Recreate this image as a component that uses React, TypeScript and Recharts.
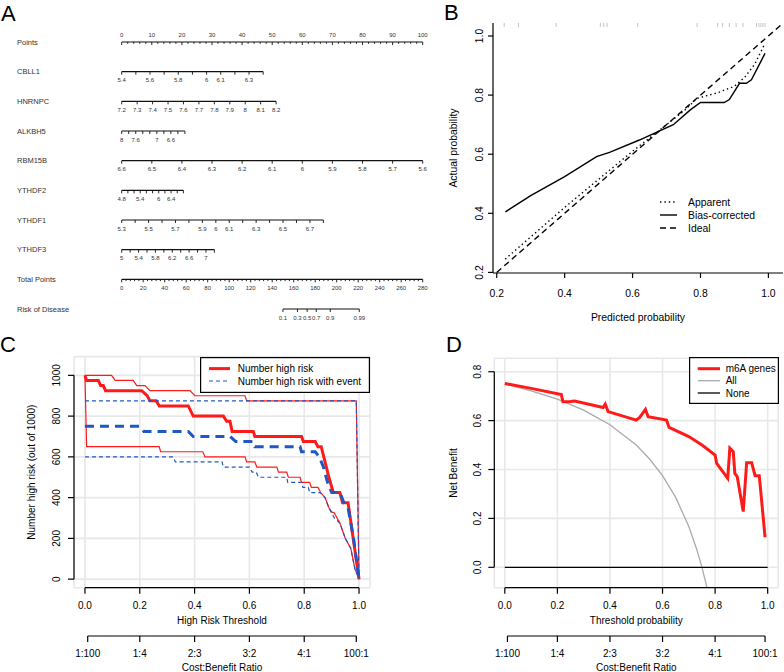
import React from "react";
import { CartesianGrid, ComposedChart, Label, Legend, Line, Scatter, XAxis, YAxis } from "recharts";

const FONT = "'Liberation Sans', Arial, Helvetica, sans-serif";
const RED = "#ff1a1a";
const BLUE = "#1f57c3";
const GRAY = "#aaaaaa";
const GRID = "#e8e8e8";

// ---------- A: nomogram ----------
const ROW_NAMES = ["Points", "CBLL1", "HNRNPC", "ALKBH5", "RBM15B", "YTHDF2", "YTHDF1", "YTHDF3", "Total Points", "Risk of Disease"];
const POINTS_LABELS = [0, 10, 20, 30, 40, 50, 60, 70, 80, 90, 100];
const TOTAL_LABELS = [0, 20, 40, 60, 80, 100, 120, 140, 160, 180, 200, 220, 240, 260, 280];

const CBLL1_TICKS = [5.4, 5.5, 5.6, 5.7, 5.8, 5.9, 6, 6.1, 6.2, 6.3, 6.4];
const CBLL1_LABELS = [5.4, 5.6, 5.8, 6, 6.1, 6.3];
const HNRNPC_TICKS = [7.2, 7.3, 7.4, 7.5, 7.6, 7.7, 7.8, 7.9, 8, 8.1, 8.2];
const HNRNPC_LABELS = [7.2, 7.3, 7.4, 7.5, 7.6, 7.7, 7.8, 7.9, 8, 8.1, 8.2];
const ALKBH5_TICKS = [8, 7.8, 7.6, 7.4, 7.2, 7, 6.8, 6.6, 6.4, 6.2];
const ALKBH5_LABELS = [8, 7.6, 7, 6.6];
const RBM15B_TICKS = [6.6, 6.5, 6.4, 6.3, 6.2, 6.1, 6, 5.9, 5.8, 5.7, 5.6];
const RBM15B_LABELS = [6.6, 6.5, 6.4, 6.3, 6.2, 6.1, 6, 5.9, 5.8, 5.7, 5.6];
const YTHDF2_TICKS = [4.8, 5, 5.2, 5.4, 5.6, 5.8, 6, 6.2, 6.4, 6.6, 6.8];
const YTHDF2_LABELS = [4.8, 5.4, 6, 6.4];
const YTHDF1_TICKS = [5.3, 5.4, 5.5, 5.6, 5.7, 5.8, 5.9, 6, 6.1, 6.2, 6.3, 6.4, 6.5, 6.6, 6.7, 6.8];
const YTHDF1_LABELS = [5.3, 5.5, 5.7, 5.9, 6, 6.1, 6.3, 6.5, 6.7];
const YTHDF3_TICKS = [5, 5.2, 5.4, 5.6, 5.8, 6, 6.2, 6.4, 6.6, 6.8, 7, 7.2];
const YTHDF3_LABELS = [5, 5.4, 5.8, 6.2, 6.6, 7];
// points reached at the last tick of each variable axis
const VAR_END_POINTS = [47, 51.3, 21, 100, 20.5, 67, 30.8];
const RISK_LABELS = ["0.1", "0.3", "0.5", "0.7", "0.9", "0.99"];
const RISK_AT_TOTAL = [150, 163.5, 172.5, 181, 194, 221];

// ---------- B: calibration ----------
const B_TICKS = [0.2, 0.4, 0.6, 0.8, 1.0];
const IDEAL_X = [0.2, 1.06];
const APPARENT_X = [0.225, 0.3, 0.4, 0.5, 0.6, 0.7, 0.75, 0.79, 0.85, 0.9, 0.93, 0.96, 0.99];
const APPARENT_Y = [0.245, 0.32, 0.42, 0.515, 0.61, 0.7, 0.745, 0.789, 0.808, 0.83, 0.86, 0.905, 0.975];
const BIAS_X = [0.2255, 0.3, 0.4, 0.494, 0.534, 0.62, 0.72, 0.77, 0.8, 0.87, 0.885, 0.915, 0.935, 0.95, 0.99];
const BIAS_Y = [0.405, 0.46, 0.524, 0.592, 0.607, 0.648, 0.7, 0.75, 0.775, 0.775, 0.785, 0.84, 0.84, 0.852, 0.941];
const RUG = [0.222, 0.264, 0.375, 0.505, 0.515, 0.525, 0.615, 0.79, 0.85, 0.865, 0.885, 0.905, 0.925, 0.965, 0.972, 0.978, 0.984, 0.99];
const B_LEGEND = ["Apparent", "Bias-corrected", "Ideal"];

// ---------- C: clinical impact ----------
const THR_TICKS = [0, 0.2, 0.4, 0.6, 0.8, 1.0];
const CB_TICKS = [0.01, 0.2, 0.4, 0.6, 0.8, 0.99];
const CB_LABELS = ["1:100", "1:4", "2:3", "3:2", "4:1", "100:1"];
const C_Y_TICKS = [0, 200, 400, 600, 800, 1000];
const C_NHR_X = [0, 0.006, 0.049, 0.057, 0.067, 0.075, 0.207, 0.227, 0.237, 0.26, 0.271, 0.377, 0.395, 0.505, 0.517, 0.529, 0.537, 0.614, 0.62, 0.79, 0.797, 0.84, 0.85, 0.862, 0.876, 0.89, 0.906, 0.93, 0.94, 0.96, 1.0];
const C_NHR_Y = [1000, 975, 975, 950, 950, 925, 925, 900, 875, 875, 850, 850, 800, 800, 775, 775, 725, 725, 700, 700, 675, 675, 650, 650, 575, 500, 425, 425, 375, 375, 0];
const C_NHR_UP_X = [0, 0.097, 0.11, 0.176, 0.189, 0.219, 0.237, 0.383, 0.401, 0.584, 0.59, 0.99, 1.0];
const C_NHR_UP_Y = [1000, 1000, 975, 975, 950, 950, 925, 925, 900, 900, 875, 875, 0];
const C_NHR_LO_X = [0, 0.006, 0.271, 0.276, 0.43, 0.438, 0.584, 0.59, 0.62, 0.627, 0.7, 0.706, 0.736, 0.742, 0.785, 0.79, 0.82, 0.826, 0.85, 0.86, 0.876, 0.89, 0.9, 0.91, 0.93, 0.95, 0.97, 0.985, 1.0];
const C_NHR_LO_Y = [1000, 650, 650, 625, 625, 600, 600, 575, 575, 550, 550, 525, 525, 500, 500, 475, 475, 450, 450, 425, 400, 350, 330, 325, 275, 200, 150, 50, 0];
const C_NHRE_X = [0, 0.2, 0.215, 0.377, 0.395, 0.53, 0.55, 0.614, 0.62, 0.785, 0.79, 0.84, 0.855, 0.87, 0.885, 0.9, 0.93, 0.945, 0.96, 0.98, 1.0];
const C_NHRE_Y = [750, 750, 725, 725, 700, 700, 675, 675, 650, 650, 625, 625, 600, 550, 475, 425, 425, 375, 350, 200, 0];
const C_NHRE_UP_X = [0, 0.99, 1.0];
const C_NHRE_UP_Y = [875, 875, 0];
const C_NHRE_LO_X = [0, 0.322, 0.33, 0.5, 0.505, 0.6, 0.61, 0.625, 0.633, 0.736, 0.74, 0.79, 0.795, 0.815, 0.82, 0.858, 0.876, 0.89, 0.91, 0.93, 0.95, 0.97, 0.985, 1.0];
const C_NHRE_LO_Y = [600, 600, 575, 575, 550, 550, 525, 525, 500, 500, 475, 475, 450, 450, 425, 425, 400, 350, 300, 275, 200, 150, 50, 0];
const C_LEGEND = ["Number high risk", "Number high risk with event"];

// ---------- D: decision curve ----------
const D_Y_TICKS = [0, 0.2, 0.4, 0.6, 0.8];
const D_M6A_X = [0, 0.1, 0.215, 0.221, 0.25, 0.266, 0.374, 0.382, 0.393, 0.5, 0.513, 0.535, 0.545, 0.615, 0.625, 0.7, 0.75, 0.8, 0.806, 0.848, 0.856, 0.869, 0.875, 0.884, 0.907, 0.92, 0.939, 0.952, 0.968, 0.99];
const D_M6A_Y = [0.752, 0.732, 0.707, 0.677, 0.678, 0.68, 0.654, 0.668, 0.637, 0.602, 0.613, 0.646, 0.616, 0.602, 0.572, 0.535, 0.5, 0.459, 0.425, 0.364, 0.487, 0.473, 0.384, 0.371, 0.228, 0.428, 0.428, 0.375, 0.375, 0.123];
const D_ALL_X = [0, 0.1, 0.2, 0.3, 0.4, 0.5, 0.55, 0.6, 0.65, 0.7, 0.73, 0.75, 0.77];
const D_ALL_Y = [0.75, 0.722, 0.688, 0.643, 0.583, 0.5, 0.444, 0.375, 0.286, 0.167, 0.074, 0, -0.087];
const D_NONE_X = [0, 1];
const D_NONE_Y = [0, 0];
const D_LEGEND = ["m6A genes", "All", "None"];

// ---------- helpers ----------
const f1 = (v: number) => v.toFixed(1);
const f0 = (v: number) => String(v);
const xy = (xs: number[], ys: number[]) => xs.map((x, i) => ({ x, y: ys[i] }));
const AXIS = { stroke: "#000", strokeWidth: 1.2 };
const TICK_TXT = { fontSize: 10, fill: "#000", fontFamily: FONT };

// stroke dash that shows an axis line only between two domain values (R style)
function partialLine(dom: number[], from: number, to: number, px: number, topDown = false) {
  const k = px / (dom[1] - dom[0]);
  const gap = topDown ? (dom[1] - to) * k : (from - dom[0]) * k;
  return { ...AXIS, strokeDasharray: `0 ${gap} ${(to - from) * k} 4000` };
}

const rotTick = (fmt: (v: number) => string, fontSize: number) => (p: any) => (
  <text x={p.x} y={p.y} transform={`rotate(-90 ${p.x} ${p.y})`} textAnchor="middle" fontSize={fontSize} fontFamily={FONT} fill="#000">
    {fmt(p.payload.value)}
  </text>
);

type LegendRow = { label: string; color: string; width: number; dash?: string };
function LegendBox(props: { rows: LegendRow[]; w: number; h: number; box: boolean; x1: number; x2: number; tx: number; ys: number[]; fontSize: number }) {
  const { rows, w, h, box, x1, x2, tx, ys, fontSize } = props;
  return (
    <svg width={w} height={h} style={{ display: "block", overflow: "visible" }}>
      {box && <rect x={0.6} y={0.6} width={w - 1.2} height={h - 1.2} fill="#fff" stroke="#000" strokeWidth={1.2} />}
      {rows.map((r, i) => (
        <g key={r.label}>
          <line x1={x1} x2={x2} y1={ys[i]} y2={ys[i]} stroke={r.color} strokeWidth={r.width} strokeDasharray={r.dash} />
          <text x={tx} y={ys[i]} dy="0.36em" fontSize={fontSize} fontFamily={FONT} fill="#000">
            {r.label}
          </text>
        </g>
      ))}
    </svg>
  );
}

// ---------- A ----------
const ROW_IDX = ROW_NAMES.map((_, i) => i);
const VAR_TICKS = [CBLL1_TICKS, HNRNPC_TICKS, ALKBH5_TICKS, RBM15B_TICKS, YTHDF2_TICKS, YTHDF1_TICKS, YTHDF3_TICKS];
const VAR_LABELS = [CBLL1_LABELS, HNRNPC_LABELS, ALKBH5_LABELS, RBM15B_LABELS, YTHDF2_LABELS, YTHDF1_LABELS, YTHDF3_LABELS];

const varRows = VAR_TICKS.map((ticks, i) => {
  const start = ticks[0];
  const end = ticks[ticks.length - 1];
  const v100 = start + ((end - start) * 100) / VAR_END_POINTS[i];
  return {
    id: `v${i}`,
    domain: [Math.min(start, v100), Math.max(start, v100)],
    reversed: end < start,
    data: ticks.map((t) => ({ x: t, y: i + 1, label: VAR_LABELS[i].includes(t) ? f0(t) : "", minor: false })),
  };
});
const pointsRow = Array.from({ length: 51 }, (_, k) => k * 2).map((v) => ({
  x: v, y: 0, label: POINTS_LABELS.includes(v) ? f0(v) : "", minor: !POINTS_LABELS.includes(v),
}));
const totalRow = Array.from({ length: 71 }, (_, k) => k * 4).map((v) => ({
  x: v, y: 8, label: TOTAL_LABELS.includes(v) ? f0(v) : "", minor: !TOTAL_LABELS.includes(v),
}));
const riskRow = RISK_AT_TOTAL.map((v, i) => ({ x: v, y: 9, label: RISK_LABELS[i], minor: false }));

const NOMO_LINE = { stroke: "#111", strokeWidth: 1.1 };
const nomoTick = (above: boolean) => (p: any) => {
  const { cx, cy, payload } = p;
  return (
    <g>
      <line x1={cx} x2={cx} y1={cy} y2={cy + (payload.minor ? 1.8 : 3)} stroke="#111" strokeWidth={0.9} />
      {payload.label !== "" && (
        <text x={cx} y={above ? cy - 4.8 : cy + 10.6} textAnchor="middle" fontSize={6} fontFamily={FONT} fill="#333">
          {payload.label}
        </text>
      )}
    </g>
  );
};
const nameTick = (p: any) => (
  <text x={17} y={p.y} dy="0.36em" fontSize={7.5} fontFamily={FONT} fill="#333">
    {ROW_NAMES[p.payload.value]}
  </text>
);

function Nomogram() {
  return (
    <ComposedChart width={440} height={330} margin={{ top: 42, right: 17.3, bottom: 21, left: 0 }}>
      <YAxis type="number" dataKey="y" domain={[0, 9]} reversed ticks={ROW_IDX} interval={0} width={121.7} axisLine={false} tickLine={false} tick={nameTick} />
      <XAxis xAxisId="pts" type="number" dataKey="x" domain={[0, 100]} hide />
      <XAxis xAxisId="total" type="number" dataKey="x" domain={[0, 280]} hide />
      {varRows.map((r) => (
        <XAxis key={r.id} xAxisId={r.id} type="number" dataKey="x" domain={r.domain} reversed={r.reversed} hide />
      ))}
      <Scatter xAxisId="pts" data={pointsRow} line={NOMO_LINE} shape={nomoTick(true)} isAnimationActive={false} />
      {varRows.map((r) => (
        <Scatter key={r.id} xAxisId={r.id} data={r.data} line={NOMO_LINE} shape={nomoTick(false)} isAnimationActive={false} />
      ))}
      <Scatter xAxisId="total" data={totalRow} line={NOMO_LINE} shape={nomoTick(false)} isAnimationActive={false} />
      <Scatter xAxisId="total" data={riskRow} line={NOMO_LINE} shape={nomoTick(false)} isAnimationActive={false} />
    </ComposedChart>
  );
}

// ---------- B ----------
const B_XDOM = [0.189, 1.043];
const B_YDOM = [0.198, 1.044];
const rugData = RUG.map((v) => ({ x: v, y: B_YDOM[1] }));
const rugShape = (p: any) => <line x1={p.cx} x2={p.cx} y1={p.cy} y2={p.cy + 4} stroke="#c4c4c4" strokeWidth={1} />;

function Calibration() {
  return (
    <ComposedChart width={344} height={330} margin={{ top: 23, right: 1, bottom: 0, left: 0 }}>
      <XAxis type="number" dataKey="x" domain={B_XDOM} allowDataOverflow ticks={B_TICKS} interval={0} tickFormatter={f1} height={57} tickSize={5} tickMargin={11.5} axisLine={AXIS} tickLine={AXIS} tick={{ ...TICK_TXT, fontSize: 10.4 }}>
        <Label value="Predicted probability" position="insideBottom" offset={9.4} fontSize={10.4} fill="#000" fontFamily={FONT} />
      </XAxis>
      <XAxis xAxisId="box" orientation="top" type="number" domain={B_XDOM} allowDataOverflow height={0} tick={false} tickLine={false} axisLine={AXIS} />
      <YAxis type="number" dataKey="y" domain={B_YDOM} allowDataOverflow ticks={B_TICKS} interval={0} width={53} tickSize={5} tickMargin={5} axisLine={AXIS} tickLine={AXIS} tick={rotTick(f1, 10.4)}>
        <Label value="Actual probability" angle={-90} position="center" dx={-13.2} fontSize={10.4} fill="#000" fontFamily={FONT} />
      </YAxis>
      <YAxis yAxisId="box" orientation="right" type="number" domain={B_YDOM} allowDataOverflow width={0} tick={false} tickLine={false} axisLine={AXIS} />
      <Scatter data={rugData} shape={rugShape} isAnimationActive={false} />
      <Line data={xy(IDEAL_X, IDEAL_X)} dataKey="y" stroke="#000" strokeWidth={1.4} strokeDasharray="6 4" dot={false} activeDot={false} isAnimationActive={false} />
      <Line data={xy(APPARENT_X, APPARENT_Y)} dataKey="y" stroke="#000" strokeWidth={1.4} strokeDasharray="1.4 3" dot={false} activeDot={false} isAnimationActive={false} />
      <Line data={xy(BIAS_X, BIAS_Y)} dataKey="y" stroke="#000" strokeWidth={1.4} dot={false} activeDot={false} isAnimationActive={false} />
      <Legend
        layout="vertical" verticalAlign="middle" align="center"
        wrapperStyle={{ left: 215, top: 190, width: 130, height: 44 }}
        content={() => (
          <LegendBox
            rows={[
              { label: B_LEGEND[0], color: "#000", width: 1.4, dash: "1.4 3" },
              { label: B_LEGEND[1], color: "#000", width: 1.4 },
              { label: B_LEGEND[2], color: "#000", width: 1.4, dash: "6 4" },
            ]}
            w={130} h={44} box={false} x1={5} x2={22} tx={33} ys={[12, 25, 38]} fontSize={10.4}
          />
        )}
      />
    </ComposedChart>
  );
}

// ---------- C ----------
const X_DOM = [-0.04, 1.04];
const C_YDOM = [-42, 1092];
const C_PW = 296;
const C_PH = 231.1;

function ClinicalImpact() {
  return (
    <ComposedChart width={400} height={342} margin={{ top: 26.6, right: 30, bottom: 0, left: 0 }}>
      <CartesianGrid stroke={GRID} strokeWidth={1.6} />
      <XAxis type="number" dataKey="x" domain={X_DOM} allowDataOverflow ticks={THR_TICKS} interval={0} tickFormatter={f1} height={48.3} tickSize={6} tickMargin={8.5} axisLine={partialLine(X_DOM, 0, 1, C_PW)} tickLine={AXIS} tick={TICK_TXT}>
        <Label value="High Risk Threshold" position="insideBottom" offset={12.4} fontSize={10} fill="#000" fontFamily={FONT} />
      </XAxis>
      <XAxis xAxisId="cb" type="number" dataKey="x" domain={X_DOM} allowDataOverflow ticks={CB_TICKS} interval={0} tickFormatter={(v: number) => CB_LABELS[CB_TICKS.indexOf(v)]} height={36} tickSize={6} tickMargin={7.4} axisLine={partialLine(X_DOM, 0.01, 0.99, C_PW)} tickLine={AXIS} tick={TICK_TXT}>
        <Label value="Cost:Benefit Ratio" position="insideBottom" offset={1.4} fontSize={10} fill="#000" fontFamily={FONT} />
      </XAxis>
      <YAxis type="number" dataKey="y" domain={C_YDOM} allowDataOverflow ticks={C_Y_TICKS} interval={0} width={74} tickSize={6} tickMargin={8} axisLine={partialLine(C_YDOM, 0, 1000, C_PH, true)} tickLine={AXIS} tick={rotTick(f0, 10)}>
        <Label value="Number high risk (out of 1000)" angle={-90} position="center" dx={-6} fontSize={10} fill="#000" fontFamily={FONT} />
      </YAxis>
      <Line data={xy(C_NHR_X, C_NHR_Y)} dataKey="y" stroke={RED} strokeWidth={3} dot={false} activeDot={false} isAnimationActive={false} />
      <Line data={xy(C_NHR_UP_X, C_NHR_UP_Y)} dataKey="y" stroke={RED} strokeWidth={1.2} dot={false} activeDot={false} isAnimationActive={false} />
      <Line data={xy(C_NHR_LO_X, C_NHR_LO_Y)} dataKey="y" stroke={RED} strokeWidth={1.2} dot={false} activeDot={false} isAnimationActive={false} />
      <Line data={xy(C_NHRE_X, C_NHRE_Y)} dataKey="y" stroke={BLUE} strokeWidth={3} strokeDasharray="9 6" dot={false} activeDot={false} isAnimationActive={false} />
      <Line data={xy(C_NHRE_UP_X, C_NHRE_UP_Y)} dataKey="y" stroke={BLUE} strokeWidth={1.2} strokeDasharray="4 3" dot={false} activeDot={false} isAnimationActive={false} />
      <Line data={xy(C_NHRE_LO_X, C_NHRE_LO_Y)} dataKey="y" stroke={BLUE} strokeWidth={1.2} strokeDasharray="4 3" dot={false} activeDot={false} isAnimationActive={false} />
      <Legend
        layout="vertical" verticalAlign="middle" align="center"
        wrapperStyle={{ left: 200, top: 26.7, width: 170, height: 36 }}
        content={() => (
          <LegendBox
            rows={[
              { label: C_LEGEND[0], color: RED, width: 3 },
              { label: C_LEGEND[1], color: BLUE, width: 1.2, dash: "4 3" },
            ]}
            w={170} h={36} box x1={9} x2={30} tx={37.7} ys={[11.6, 24]} fontSize={10}
          />
        )}
      />
    </ComposedChart>
  );
}

// ---------- D ----------
const D_YDOM = [-0.0834, 0.855];
const D_PW = 283.9;
const D_PH = 229.4;

function DecisionCurve() {
  return (
    <ComposedChart width={384} height={342} margin={{ top: 28.3, right: 5.8, bottom: 0, left: 0 }}>
      <CartesianGrid stroke={GRID} strokeWidth={1.6} />
      <XAxis type="number" dataKey="x" domain={X_DOM} allowDataOverflow ticks={THR_TICKS} interval={0} tickFormatter={f1} height={48.3} tickSize={6} tickMargin={8.5} axisLine={partialLine(X_DOM, 0, 1, D_PW)} tickLine={AXIS} tick={TICK_TXT}>
        <Label value="Threshold probability" position="insideBottom" offset={12.4} fontSize={10} fill="#000" fontFamily={FONT} />
      </XAxis>
      <XAxis xAxisId="cb" type="number" dataKey="x" domain={X_DOM} allowDataOverflow ticks={CB_TICKS} interval={0} tickFormatter={(v: number) => CB_LABELS[CB_TICKS.indexOf(v)]} height={36} tickSize={6} tickMargin={7.4} axisLine={partialLine(X_DOM, 0.01, 0.99, D_PW)} tickLine={AXIS} tick={TICK_TXT}>
        <Label value="Cost:Benefit Ratio" position="insideBottom" offset={1.4} fontSize={10} fill="#000" fontFamily={FONT} />
      </XAxis>
      <YAxis type="number" dataKey="y" domain={D_YDOM} allowDataOverflow ticks={D_Y_TICKS} interval={0} width={94.3} tickSize={6} tickMargin={7} axisLine={partialLine(D_YDOM, 0, 0.8, D_PH, true)} tickLine={AXIS} tick={rotTick(f1, 10)}>
        <Label value="Net Benefit" angle={-90} position="center" dx={6} fontSize={10} fill="#000" fontFamily={FONT} />
      </YAxis>
      <Line data={xy(D_ALL_X, D_ALL_Y)} dataKey="y" stroke={GRAY} strokeWidth={1.3} dot={false} activeDot={false} isAnimationActive={false} />
      <Line data={xy(D_NONE_X, D_NONE_Y)} dataKey="y" stroke="#000" strokeWidth={1.3} dot={false} activeDot={false} isAnimationActive={false} />
      <Line data={xy(D_M6A_X, D_M6A_Y)} dataKey="y" stroke={RED} strokeWidth={3} dot={false} activeDot={false} isAnimationActive={false} />
      <Legend
        layout="vertical" verticalAlign="middle" align="center"
        wrapperStyle={{ left: 289, top: 27.3, width: 90, height: 47 }}
        content={() => (
          <LegendBox
            rows={[
              { label: D_LEGEND[0], color: RED, width: 3 },
              { label: D_LEGEND[1], color: GRAY, width: 1.3 },
              { label: D_LEGEND[2], color: "#000", width: 1.3 },
            ]}
            w={90} h={47} box x1={8.7} x2={31} tx={36.7} ys={[11.7, 23.7, 36]} fontSize={10}
          />
        )}
      />
    </ComposedChart>
  );
}

const panelLetter = (text: string, left: number, top: number) => (
  <div style={{ position: "absolute", left, top, fontSize: 22, lineHeight: "22px", fontFamily: FONT, color: "#000" }}>{text}</div>
);

export default function App() {
  return (
    <div style={{ position: "absolute", left: 0, top: 0, width: 784, height: 672, background: "#fff", overflow: "hidden", fontFamily: FONT }}>
      <div style={{ position: "absolute", left: 0, top: 0 }}>
        <Nomogram />
      </div>
      <div style={{ position: "absolute", left: 440, top: 0 }}>
        <Calibration />
      </div>
      <div style={{ position: "absolute", left: 0, top: 330 }}>
        <ClinicalImpact />
      </div>
      <div style={{ position: "absolute", left: 400, top: 330 }}>
        <DecisionCurve />
      </div>
      {panelLetter("A", 1, 3)}
      {panelLetter("B", 444, 2)}
      {panelLetter("C", 0, 334)}
      {panelLetter("D", 446, 334)}
    </div>
  );
}
